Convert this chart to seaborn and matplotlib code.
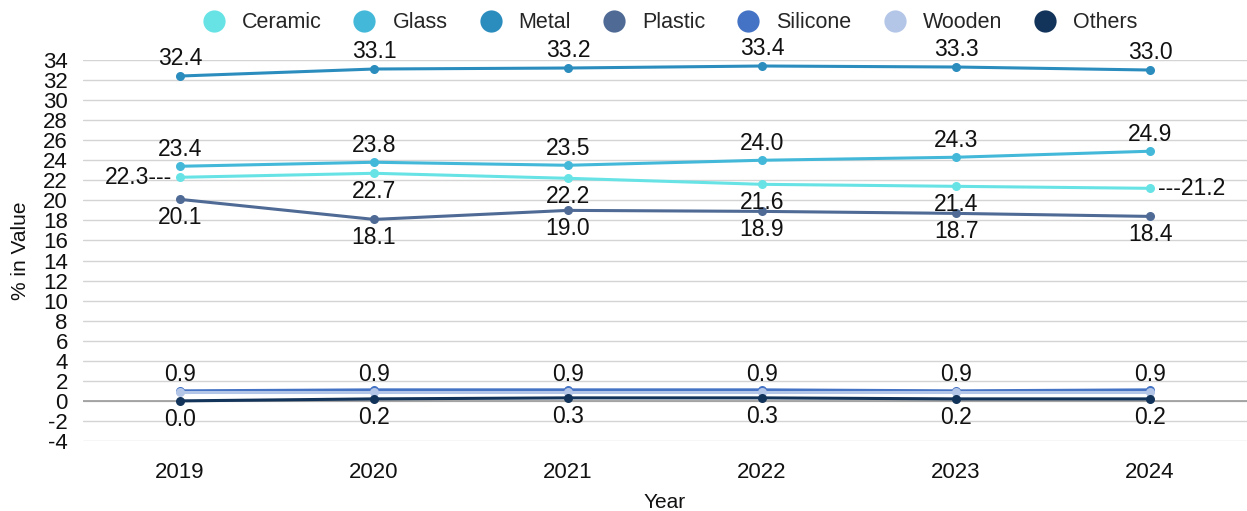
import matplotlib
matplotlib.use("Agg")
import matplotlib.pyplot as plt
import seaborn as sns
import pandas as pd

years = [2019, 2020, 2021, 2022, 2023, 2024]
ceramic = [22.3, 22.7, 22.2, 21.6, 21.4, 21.2]
glass = [23.4, 23.8, 23.5, 24.0, 24.3, 24.9]
metal = [32.4, 33.1, 33.2, 33.4, 33.3, 33.0]
plastic = [20.1, 18.1, 19.0, 18.9, 18.7, 18.4]
silicone = [1.0, 1.1, 1.1, 1.1, 1.0, 1.1]
wooden = [0.9, 0.9, 0.9, 0.9, 0.9, 0.9]
others = [0.0, 0.2, 0.3, 0.3, 0.2, 0.2]

series_names = ["Ceramic", "Glass", "Metal", "Plastic", "Silicone", "Wooden", "Others"]
series_values = [ceramic, glass, metal, plastic, silicone, wooden, others]
colors = ["#67e3e6", "#43b8d8", "#2b8cbe", "#4e6a95", "#4472c4", "#b4c6e7", "#13345a"]

rows = []
for name, vals in zip(series_names, series_values):
    for y, v in zip(years, vals):
        rows.append({"Year": y, "Value": v, "Material": name})
df = pd.DataFrame(rows)

sns.set_style("white")
plt.rcParams["font.family"] = ["Liberation Sans", "DejaVu Sans"]
plt.rcParams["axes.unicode_minus"] = False

fig = plt.figure(figsize=(12.47, 5.11), dpi=100)
ax = fig.add_axes([0.0666, 0.137, 0.9334, 0.7456])

# draw back-to-front so the darker lines near zero sit on top
order = ["Silicone", "Wooden", "Others", "Plastic", "Ceramic", "Glass", "Metal"]
pal = dict(zip(series_names, colors))
for name in order:
    sub = df[df["Material"] == name]
    sns.lineplot(data=sub, x="Year", y="Value", color=pal[name], marker="o",
                 markersize=6.5, markeredgewidth=0, linewidth=2.2, ax=ax,
                 legend=False, zorder=3)

ax.set_xlim(years[0] - 0.5, years[-1] + 0.5)
ax.set_ylim(-4, 34)
ax.set_yticks(range(-4, 35, 2))
ax.set_xticks(years)
ax.set_xticklabels([str(y) for y in years])
ax.tick_params(axis="both", length=0, labelsize=16, colors="#111111")
ax.tick_params(axis="x", pad=15)
ax.tick_params(axis="y", pad=11)
ax.yaxis.grid(True, color="#d4d4d4", linewidth=1)
ax.set_axisbelow(True)
ax.axhline(0, color="#9a9a9a", linewidth=1.2, zorder=1)
for s in ax.spines.values():
    s.set_visible(False)

ax.set_xlabel("Year", fontsize=15, labelpad=7, color="#111111")
ax.set_ylabel("% in Value", fontsize=15, labelpad=9, color="#111111")

lab_kw = dict(fontsize=16.5, color="#111111", ha="center")

def label_above(vals):
    for x, v in zip(years, vals):
        ax.annotate(f"{v:.1f}", (x, v), xytext=(0, 4), textcoords="offset points",
                    va="bottom", **lab_kw)

def label_below(vals):
    for x, v in zip(years, vals):
        ax.annotate(f"{v:.1f}", (x, v), xytext=(0, -5), textcoords="offset points",
                    va="top", **lab_kw)

label_above(metal)
label_above(glass)
label_below(plastic)
label_above(wooden)
label_below(others)

# ceramic: middle labels below, end labels pulled out with leader dashes
for x, v in zip(years[1:-1], ceramic[1:-1]):
    ax.annotate(f"{v:.1f}", (x, v), xytext=(0, -5), textcoords="offset points",
                va="top", **lab_kw)
ax.annotate(f"{ceramic[0]:.1f}---", (years[0], ceramic[0]), xytext=(-6, 0),
            textcoords="offset points", va="center", ha="right",
            fontsize=16.5, color="#111111")
ax.annotate(f"---{ceramic[-1]:.1f}", (years[-1], ceramic[-1]), xytext=(6, 0),
            textcoords="offset points", va="center", ha="left",
            fontsize=16.5, color="#111111")

handles = [plt.Line2D([], [], marker="o", linestyle="", markersize=16,
                      markerfacecolor=c, markeredgewidth=0) for c in colors]
fig.legend(handles, series_names, loc="center", bbox_to_anchor=(0.533, 0.955),
           ncol=7, frameon=False, fontsize=15.5, handletextpad=0.3,
           columnspacing=1.0)

fig.savefig("out.png", dpi=100)
